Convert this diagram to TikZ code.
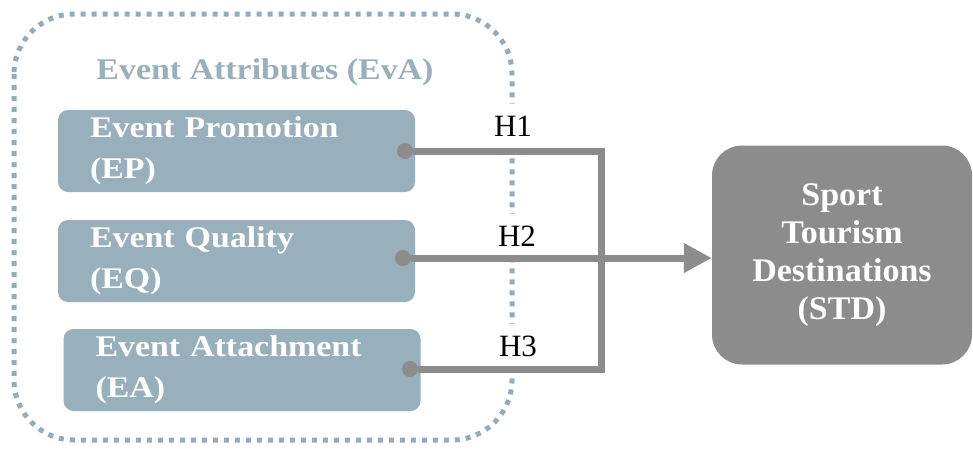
\documentclass[tikz,border=0pt]{standalone}
\usepackage{fontspec}
\setmainfont{Liberation Serif}
\newfontfamily\boxfont[FakeStretch=1.13]{Liberation Serif Bold}
\newfontfamily\stdfont[FakeStretch=1.03]{Liberation Serif Bold}
\usetikzlibrary{arrows.meta}

\definecolor{attrblue}{HTML}{98AFBC}
\definecolor{edgeblue}{HTML}{94ABB9}
\definecolor{linkgray}{HTML}{8C8C8C}

\tikzset{
	attrbox/.style = {fill = attrblue, rounded corners = 10pt, minimum width = 357pt, minimum height = 82pt,
		text width = 293pt, inner xsep = 32pt, inner ysep = 0pt, align = left, text = white,
		font = \boxfont\fontsize{30}{41}\selectfont},
	stdbox/.style = {fill = linkgray, rounded corners = 30pt, minimum width = 260pt, minimum height = 219pt,
		align = center, text = white, font = \stdfont\fontsize{33}{38}\selectfont},
	portdot/.style = {circle, fill = linkgray, minimum size = 16pt, inner sep = 0pt},
	hlabel/.style = {fill = white, minimum height = 44pt, inner xsep = 4pt, inner ysep = 0pt,
		font = \fontsize{31}{31}\selectfont},
	link/.style = {draw = linkgray, line width = 7pt},
	container/.style = {draw = edgeblue, line width = 5pt, dash pattern = on 5pt off 6pt, rounded corners = 60pt}
}

\begin{document}
\begin{tikzpicture}[x = 1pt, y = -1pt]
	\useasboundingbox (0,0) rectangle (973,448);
	% grouping frame
	\draw [container] (14,14) rectangle (512,440);
	\node [text = attrblue, font = \boxfont\fontsize{30}{30}\selectfont] (eva) at (265,72) {Event Attributes (EvA)};

	\node [attrbox] (ep) at (236.5,151) {Event Promotion\\(EP)};
	\node [attrbox] (eq) at (236.5,261) {Event Quality\\(EQ)};
	\node [attrbox] (ea) at (242,370) {Event Attachment\\(EA)};

	\node [stdbox] (std) at (842,255) {Sport\\Tourism\\Destinations\\(STD)};

	\node [hlabel] (h1) at (513,126) {H1};
	\node [hlabel] (h2) at (517,236) {H2};
	\node [hlabel] (h3) at (518,346) {H3};

	\node [portdot] (epdot) at (405,151) {};
	\node [portdot] (eqdot) at (403,258) {};
	\node [portdot] (eadot) at (410,369) {};

	\coordinate (bus) at (601,260);
	\draw [link] (epdot.east) -| (bus) |- (eadot.east);
	\draw [link, -{Triangle[length = 28pt, width = 28pt]}] (eqdot.east) -- (eqdot.east -| std.west);
\end{tikzpicture}
\end{document}
